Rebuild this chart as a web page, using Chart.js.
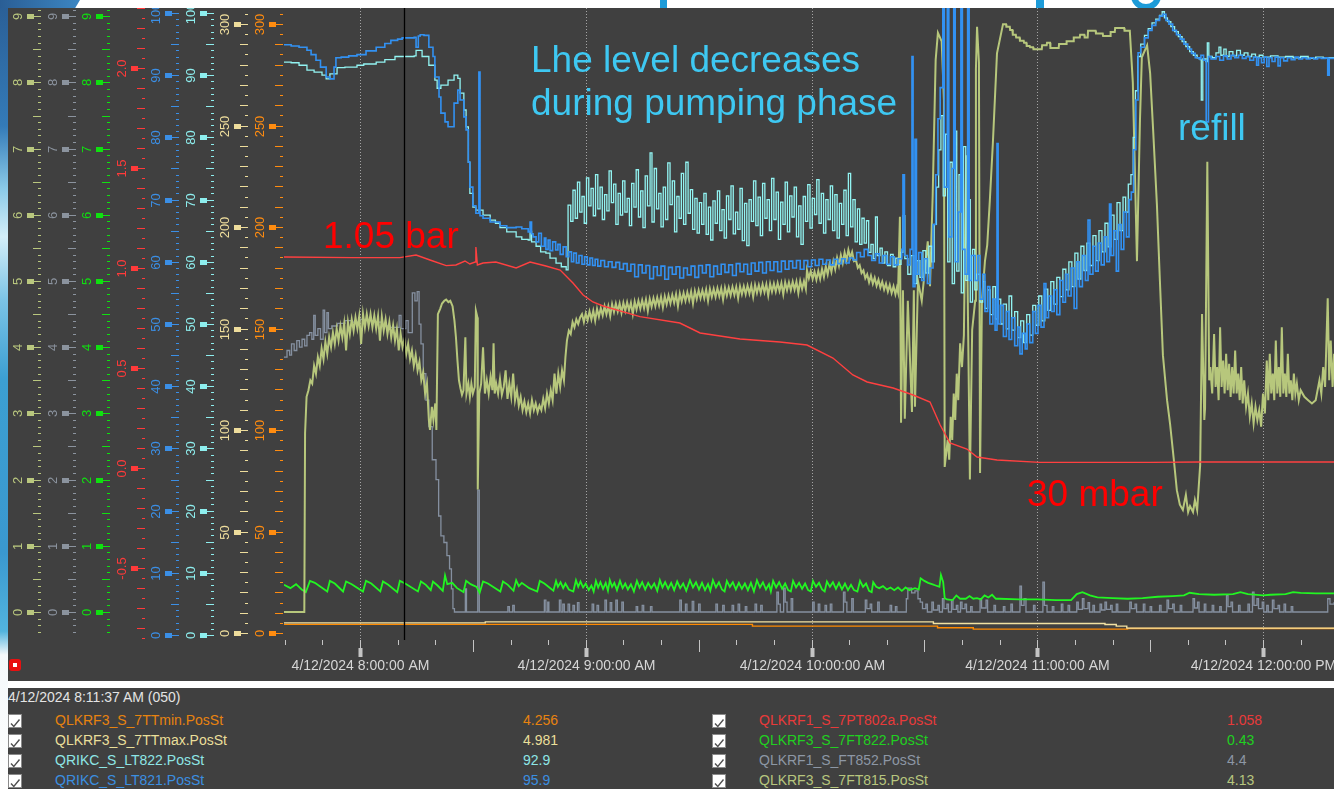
<!DOCTYPE html>
<html><head><meta charset="utf-8">
<script src="https://cdn.jsdelivr.net/npm/chart.js@4.4.1/dist/chart.umd.min.js"></script>
<style>
html,body{margin:0;padding:0;background:#fff;}
body{width:1334px;height:789px;overflow:hidden;position:relative;font-family:"Liberation Sans",Arial,sans-serif;}
#strip{position:absolute;left:0;top:0;width:8px;height:789px;background:linear-gradient(180deg,#2a5e95 0%,#347bb8 16%,#8ccbe9 24%,#d4eef8 30%,#7cc4e6 38%,#3c9fd2 48%,#3a98cf 70%,#52b4de 80%,#f4f8fa 83%,#ffffff 100%);}
#corner{position:absolute;left:0;top:0;width:80px;height:8px;background:linear-gradient(90deg,#2a5e95,#3c86c2);clip-path:polygon(0 0,100% 0,94% 100%,0 100%);}
.tf{position:absolute;background:#1d9bd8;}
#gbowl{position:absolute;left:1131px;top:-18px;width:18px;height:16px;border:6px solid #1d9bd8;border-radius:50%;}
#panel{position:absolute;left:8px;top:8px;width:1326px;height:673px;background:#404040;}
#c{position:absolute;left:8px;top:8px;z-index:1;}
#legend{position:absolute;left:8px;top:688px;width:1326px;height:101px;background:#404040;overflow:hidden;}
.ann{position:absolute;font-size:37px;line-height:43px;white-space:nowrap;z-index:3;}
.blue{color:#3ec8f2;}
.red{color:#ff0000;}
#icon{position:absolute;left:9px;top:659px;width:12px;height:12px;background:#e81010;border-radius:3px;z-index:3;}
#icon div{position:absolute;left:4px;top:4px;width:4px;height:4px;background:#fff;}
.lg{position:absolute;font-size:14px;line-height:16px;white-space:nowrap;}
.cb{position:absolute;width:12px;height:12px;background:#fff;border:1px solid #8a8a8a;}
</style>
</head>
<body>
<div id="strip"></div>
<div id="corner"></div>
<div class="tf" style="left:660px;top:0;width:7px;height:8px;"></div>
<div class="tf" style="left:1036px;top:0;width:8px;height:8px;"></div>
<div id="gbowl"></div>
<div id="panel"></div>
<canvas id="c" width="1326" height="673" style="width:1326px;height:673px;"></canvas>
<div class="ann blue" style="left:531px;top:37.7px;">Lhe level decreases<br>during pumping phase</div>
<div class="ann blue" style="left:1178px;top:105.7px;">refill</div>
<div class="ann red" style="left:323px;top:213.7px;">1.05 bar</div>
<div class="ann red" style="left:1027px;top:471.7px;">30 mbar</div>
<div id="icon"><div></div></div>
<div id="legend"></div>
<script>
// ---------------- DATA (minutes since midnight, value) ----------------
const cursorTime = 491.617;            // 8:11:37
const cursorLabel = '4/12/2024 8:11:37 AM (050)';
const hourTicks = [480, 540, 600, 660, 720];
const hourLabels = ['4/12/2024 8:00:00 AM','4/12/2024 9:00:00 AM','4/12/2024 10:00:00 AM','4/12/2024 11:00:00 AM','4/12/2024 12:00:00 PM'];
const ticksCount = ['0','1','2','3','4','5','6','7','8','9'];
const ticksBar = ['-0.5','0.0','0.5','1.0','1.5','2.0'];
const ticksPct = ['0','10','20','30','40','50','60','70','80','90','100'];
const ticksTemp = ['0','50','100','150','200','250','300'];

const legendNames = ['QLKRF3_S_7TTmin.PosSt','QLKRF3_S_7TTmax.PosSt','QRIKC_S_LT822.PosSt','QRIKC_S_LT821.PosSt','QLKRF1_S_7PT802a.PosSt','QLKRF3_S_7FT822.PosSt','QLKRF1_S_FT852.PosSt','QLKRF3_S_7FT815.PosSt'];
const legendValues = ['4.256','4.981','92.9','95.9','1.058','0.43','4.4','4.13'];

const ttmin = [[459.8,4.256],[584.2,4.256],[584.3,3.4],[633.4,3.4],[633.5,2.6],[642.9,2.6],[643.0,1.9],[682.0,1.9],[684.0,2.2],[738.9,2.2]];
const ttmax = [[459.8,4.98],[513.2,4.98],[513.3,5.5],[632.3,5.5],[632.4,4.7],[674.0,4.7],[678.0,4.2],[681.0,3.4],[683.8,2.4],[738.9,2.4]];

const pt802a = [[459.8,1.055],[478.1,1.052],[490.6,1.052],[494.9,1.065],[498.6,1.04],[502.9,1.012],[505.5,1.015],[507.9,1.035],[509.2,1.02],[510.6,1.03],[510.8,1.105],[511.2,1.015],[512.7,1.025],[516.1,1.03],[521.5,1.0],[525.2,1.03],[529.4,1.01],[533.2,0.99],[536.6,0.925],[539.3,0.865],[541.9,0.83],[544.6,0.81],[554.4,0.757],[565.0,0.725],[570.4,0.675],[581.0,0.645],[591.6,0.63],[598.8,0.615],[605.7,0.55],[611.0,0.465],[614.8,0.43],[621.7,0.40],[627.0,0.365],[631.5,0.33],[634.2,0.215],[636.8,0.125],[641.3,0.095],[644.0,0.055],[649.3,0.04],[660.7,0.028],[690.0,0.028],[703.3,0.03],[738.9,0.03]];

const lt821 = [[459.8,94.9],[461.7,94.7],[463.8,94.5],[465.9,94.0],[467.0,93.3],[468.3,92.4],[469.5,91.3],[471.0,89.7],[472.0,89.4],[473.1,91.3],[473.6,92.8],[475.0,92.9],[477.0,93.1],[479.2,93.3],[481.6,93.9],[484.3,94.5],[486.6,95.1],[488.2,95.6],[490.0,95.8],[491.2,96.0],[492.8,96.0],[494.4,96.1],[494.9,94.5],[495.5,96.3],[496.0,96.5],[497.0,96.4],[498.3,94.5],[499.4,93.0],[499.9,89.7],[501.0,86.5],[501.5,83.9],[502.6,82.5],[503.4,81.7],[505.0,85.5],[506.0,87.6],[506.6,86.0],[507.6,83.3],[508.2,81.2],[508.8,76.0],[509.2,72.0],[510.0,69.0],[510.8,67.8],[511.6,90.5],[511.9,67.4],[512.7,67.0],[514.6,66.4],[517.2,65.8],[519.0,65.5],[521.5,65.6],[523.0,65.3],[524.7,64.8],[525.2,66.4],[525.6,64.5],[526.0,64.0],[526.8,63.2],[527.5,64.6],[528.2,62.5],[529.0,63.8],[529.4,62.0],[530.0,63.5],[530.5,61.8],[531.2,63.2],[532.0,61.9],[532.6,62.8],[533.2,61.2],[534.0,62.4],[534.8,60.8],[535.5,61.6],[536.2,60.0],[536.8,61.4],[537.5,59.8],[538.2,61.0],[539.0,59.6],[539.7,60.8],[540.4,59.5],[541.1,60.6],[541.8,59.4],[542.5,60.4],[543.2,59.3],
[544,60.2],[545,59.2],[546,60.0],[547,59.1],[548,59.9],[549,58.8],[550,59.7],[551,58.5],[552,59.6],[553,57.6],[554,59.5],[555,58.2],[556,59.4],[557,57.3],[558,59.2],[559,57.8],[560,59.3],[561,57.2],[562,59.1],[563,58.0],[564,59.2],[565,57.4],[566,59.0],[567,57.9],[568,59.3],[569,57.5],[570,59.4],[571,58.2],[572,59.5],[573,57.6],[574,59.3],[575,58.0],[576,59.6],[577,58.3],[578,59.5],[579,57.8],[580,59.7],[581,58.4],[582,59.6],[583,58.0],[584,59.8],[585,58.5],[586,59.9],[587,58.2],[588,60.0],[589,58.6],[590,60.0],[591,58.4],[592,60.1],[593,58.8],[594,60.1],[595,59.0],[596,60.2],[597,58.8],[598,60.2],[599,59.2],[600,60.3],[601,59.4],[602,60.4],[603,59.6],[604,60.3],[605,59.5],[606,60.4],[607,59.7],[608,60.5],[609,59.8],[610,60.6],[611,60.3],[612,61.5],[613,60.8],[614,62.0],[615,61.0],[616,60.2],[617,61.3],[618,59.8],[619,61.0],[620,59.6],[621,60.8],[622,59.5],[623,60.5],
[624.0,62.0],[624.3,74.0],[624.7,61.0],[625.5,59.5],[626.2,62.0],[626.7,93.0],[627.0,56.0],[627.5,79.7],[627.9,58.0],[628.5,61.5],[629.3,57.0],[630.0,60.5],[630.8,56.5],[631.5,59.0],[632.3,66.0],[633.0,74.0],[633.6,83.0],[634.2,88.0],[634.9,101],[635.3,72],[636.1,101],[636.5,64],[637.3,75],[637.8,101],[638.2,60],[639.0,68],[639.7,101],[640.1,62],[640.8,58],[641.5,101],[641.9,57],[642.5,61],[643.5,57],[644.2,61],[644.8,54],[645.5,58],[646.1,52],[646.8,56],[647.4,50],[648.2,54],[648.8,49],[649.3,79],[649.6,50],[650.2,53],[651.0,48],[651.8,52],[652.5,47.5],[653.2,51],[654.0,46.5],[654.8,49.5],[655.4,45.2],[656.0,48.5],[656.8,46],[657.3,50],[658.0,47],[658.8,52],[659.5,48.5],[660.2,53],[661.0,49.5],[661.8,56.5],[662.3,51],[663.0,54.5],[663.8,52],[664.5,55.5],[665.2,51.5],[666.0,57],[666.8,53.5],[667.5,58],[668.2,54.5],[669.0,59],[669.8,52.5],[670.5,60],[671.2,56],[672.0,61],[672.8,57],[673.5,66.7],[674.0,58],[674.8,62.5],[675.5,58.5],[676.2,63],[677.0,59.5],[677.8,64],[678.5,60],[679.2,69.3],[679.6,61],[680.3,65],[681.0,58.5],[681.6,66],[682.3,62],[683.0,68],[683.7,64],[684.4,70],[685.0,71.2],[685.6,78],[686.2,86],[686.8,93.6],[687.5,94.5],[688.5,96],[689.5,97.2],[690.5,98],[691.5,98.8],[692.5,99.5],[693.4,99.8],[694.2,98.8],[695.0,98.2],[696.0,97.2],[697.0,96.5],[698.0,95.8],[699.0,95.0],[700.0,94.2],[701.0,93.5],[702.0,92.8],[703.0,92.6],[703.5,93.2],[704.2,92.4],[704.9,82.5],[705.5,93.0],[706.2,92.6],
[707.5,93.0],[708.5,92.4],[709.5,93.1],[710.5,92.6],[711.5,93.2],[712.5,92.8],[713.5,93.2],[714.5,92.7],[715.5,93.0],[716.5,92.4],[717.5,92.9],[718.3,91.6],[718.8,92.8],[719.6,92.0],[720.3,92.9],[721.0,91.4],[721.6,92.8],[722.4,92.2],[723.2,92.9],[724.0,91.5],[724.6,92.8],[725.5,92.3],[726.5,92.8],[727.5,92.5],[728.5,92.9],[729.5,92.6],[730.5,92.8],[731.5,92.6],[732.5,92.8],[733.5,92.6],[734.5,92.8],[735.5,92.7],[736.5,92.8],[737.2,90.0],[737.6,92.7],[738.9,92.7]];

const lt822 = [[459.8,92.1],[461.7,92.0],[463.8,91.6],[465.9,90.8],[467.8,90.5],[469.9,90.0],[471.0,89.4],[472.0,90.2],[473.9,91.2],[476.0,91.3],[479.2,91.6],[481.0,91.8],[484.3,92.1],[486.6,92.5],[489.3,93.0],[492.0,93.0],[494.4,93.1],[494.9,94.0],[496.5,93.0],[498.3,91.6],[499.9,89.2],[500.5,87.9],[501.5,88.4],[503.4,89.2],[505.0,90.0],[506.0,89.5],[506.6,87.1],[507.6,84.4],[508.2,81.7],[508.8,76.0],[509.2,71.0],[510.0,68.8],[510.8,68.3],[512.7,67.5],[514.6,66.7],[516.0,66.2],[517.2,65.5],[519.0,64.8],[521.5,64.0],[523.0,63.6],[524.7,63.5],[525.2,64.9],[525.6,63.2],[526.8,62.5],[528.0,61.6],[529.4,61.4],[530.5,60.6],[532.1,59.8],[533.5,59.2],[534.8,58.7],
[535.3,69.1],[536.0,66.5],[536.6,71.5],[537.2,67.0],[537.8,72.8],[538.4,68.0],[539.0,70.5],[539.6,66.2],[540.2,73.5],[540.8,69.0],[541.4,71.8],[542.0,67.4],[542.6,74.0],[543.2,68.5],[543.8,72.0],[544.4,66.8],[545.0,70.8],[545.6,68.2],[546.2,74.6],[546.8,69.5],[547.4,72.5],[548.0,66.0],[548.6,71.0],[549.2,67.5],[549.8,73.0],[550.4,68.0],[551.0,70.2],[551.6,65.8],[552.2,72.6],[552.8,68.8],[553.4,74.8],[554.0,67.2],[554.6,71.4],[555.2,65.5],[555.8,73.8],[556.4,69.0],[557.1,77.5],[557.6,66.4],[558.2,75.0],[558.8,68.5],[559.4,71.0],[560.0,65.6],[560.6,72.0],[561.2,66.8],[561.8,75.9],[562.4,69.2],[563.0,73.0],[563.6,64.8],[564.2,70.5],[564.8,67.0],[565.4,74.2],[566.0,66.0],[566.6,76.0],[567.2,67.8],[567.8,71.6],[568.4,65.2],[569.0,70.2],[569.6,64.6],[570.2,69.5],[570.8,66.0],[571.4,71.0],[572.0,64.4],[572.6,68.8],[573.2,63.5],[573.8,69.8],[574.4,66.2],[575.0,71.4],[575.6,65.0],[576.2,68.4],[576.8,63.8],[577.4,70.6],[578.0,66.8],[578.6,72.2],[579.2,64.5],[579.8,68.0],[580.4,65.2],[581.0,71.8],[581.6,63.4],[582.2,69.4],[582.8,62.6],[583.4,70.0],[584.0,66.5],[584.6,73.0],[585.2,65.8],[585.8,70.4],[586.4,64.2],[587.0,72.6],[587.6,67.0],[588.2,70.0],[588.8,65.0],[589.4,73.4],[590.0,66.8],[590.6,71.2],[591.2,63.6],[591.8,69.6],[592.4,66.0],[593.0,72.8],[593.6,64.8],[594.2,70.6],[594.8,67.2],[595.4,72.0],[596.0,64.0],[596.6,69.0],[597.2,62.8],[597.8,70.5],[598.4,66.5],[599.0,72.4],[599.6,65.4],[600.2,70.2],[600.8,67.6],[601.4,73.2],[602.0,66.2],[602.6,71.0],[603.2,64.6],[603.8,70.0],[604.4,66.8],[605.0,72.2],[605.6,65.0],[606.2,70.8],[606.8,63.8],[607.4,69.4],[608.0,66.0],[608.6,71.5],[609.2,64.2],[609.8,74.2],[610.4,65.6],[611.0,70.0],[611.6,63.2],[612.2,68.5],[612.8,62.8],[613.4,67.0],[614.0,63.0],[614.6,66.6],[615.2,61.5],[615.8,62.8],[616.4,60.5],[617.0,67.2],[617.5,61.0],[618.2,62.2],[618.8,59.8],[619.5,61.6],[620.2,59.4],[621.0,61.2],[621.7,59.2],[622.4,60.6],[623.0,59.6],
[623.8,61.5],[624.3,67.4],[624.8,60.5],[625.6,58.0],[626.4,61.0],[627.2,56.5],[628.0,60.2],[628.8,57.5],[629.6,61.8],[630.4,58.2],[631.2,62.5],[632.0,60.0],[632.6,66.0],[633.2,72.0],[633.8,78.0],[634.4,83.5],[635.0,70.6],[635.6,80.5],[636.2,60.0],[636.8,76.0],[637.4,56.5],[638.0,81.0],[638.6,58.5],[639.2,74.0],[639.8,55.0],[640.4,78.5],[641.0,57.0],[641.6,70.0],[642.2,53.5],[642.8,62.0],[643.4,55.5],[644.0,58.0],[644.8,53.5],[645.5,56.8],[646.1,52.5],[646.8,55.5],[647.5,51.5],[648.2,56.0],[648.9,50.8],[649.6,54.0],[650.3,50.0],[651.0,53.2],[651.8,49.2],[652.5,54.5],[653.2,49.0],[654.0,52.0],[654.8,47.8],[655.6,50.5],[656.4,47.0],[657.2,51.5],[658.0,48.2],[658.8,53.0],[659.6,49.8],[660.4,54.5],[661.2,50.5],[662.0,55.6],[662.8,52.2],[663.6,56.8],[664.4,53.2],[665.2,57.5],[666.0,54.4],[666.8,58.8],[667.6,55.5],[668.4,60.0],[669.2,56.0],[670.0,61.4],[670.8,57.2],[671.6,62.5],[672.4,58.6],[673.2,63.0],[674.0,59.4],[674.8,64.2],[675.6,60.2],[676.4,65.0],[677.2,61.6],[678.0,66.2],[678.8,62.4],[679.6,67.5],[680.4,63.6],[681.2,69.5],[682.0,65.0],[682.8,70.4],[683.5,68.0],[684.2,72.5],[684.9,74.0],[685.5,80.0],[686.1,87.5],[686.7,93.0],[687.5,95.0],[688.5,96.4],[689.5,97.5],[690.5,98.4],[691.5,99.0],[692.5,99.6],[693.2,100.2],[693.8,99.2],[694.6,98.6],[695.5,97.8],[696.5,97.0],[697.5,96.2],[698.5,95.4],[699.5,94.6],[700.5,93.8],[701.5,93.2],[702.5,92.8],[703.3,92.5],[703.6,86.0],[704.0,92.6],[704.8,92.2],[705.2,95.2],[705.6,93.0],[706.5,92.8],[707.5,93.6],[708.3,94.5],[708.8,93.2],[709.6,94.2],[710.2,93.0],[711.0,93.8],[712.0,93.1],[713.0,94.0],[714.0,93.2],[715.0,93.6],[716.0,93.0],[717.0,93.4],[718.0,92.9],[719.0,93.2],[720.0,92.9],[722.0,93.1],[724.0,92.9],[726.0,93.0],[728.0,92.8],[730.0,93.0],[732.0,92.7],[734.0,92.9],[736.0,92.8],[738.9,92.8]];

const ft815 = [[459.8,0],[465.2,0],[465.4,2.7],[465.8,3.25],[466.3,3.35],[466.8,3.5],[467.3,3.45],[467.8,3.72],[468.3,3.6],[468.8,3.85],[469.3,3.72],[469.8,3.98],[470.3,3.82],[470.8,4.08],[471.3,3.9],[471.8,4.15],[472.3,4.0],[472.8,4.22],[473.3,4.05],[473.8,4.28],[474.3,4.1],[474.8,4.32],[475.3,4.15],[475.8,4.36],[476.3,3.95],[476.8,4.38],[477.3,4.2],[477.8,4.42],[478.3,4.25],[478.8,4.45],[479.3,4.28],[479.8,4.47],[480.3,4.05],[480.8,4.5],[481.3,4.3],[481.8,4.5],[482.3,4.32],[482.8,4.5],[483.3,4.3],[483.8,4.48],[484.3,4.28],[484.8,4.47],[485.3,4.1],[485.8,4.46],[486.3,4.25],[486.8,4.42],[487.3,4.2],[487.8,4.38],[488.3,4.15],[488.8,4.33],[489.3,4.1],[489.8,4.28],[490.3,3.95],[490.8,4.2],[491.3,4.0],[491.8,4.12],[492.3,3.9],[492.8,4.05],[493.3,3.82],[493.8,3.95],[494.3,3.72],[494.8,3.88],[495.3,3.65],[495.8,3.78],[496.3,3.5],[496.8,3.62],[497.3,3.3],[497.8,3.45],[498.3,2.9],[498.6,2.75],[499.1,3.1],[499.5,2.9],[500.0,3.15],[500.3,2.75],[500.7,4.5],[501.3,4.58],[501.8,4.66],[502.4,4.7],[502.9,4.72],[503.5,4.68],[504.0,4.7],[504.6,4.62],[505.1,4.4],[505.5,4.15],[505.9,3.8],[506.3,3.5],[506.7,3.38],[507.1,3.28],[507.5,3.35],[508.0,4.15],[508.3,3.3],[508.8,3.45],[509.2,3.25],[509.6,3.45],[510.0,3.3],[510.5,3.4],[510.8,4.55],[511.2,4.45],[511.3,1.85],[511.7,3.3],[512.2,3.45],[512.7,4.0],[513.2,3.3],[513.7,3.5],[514.2,3.3],[514.7,3.55],[515.2,3.35],[515.5,4.06],[515.8,3.3],[516.2,3.45],[516.7,3.3],[517.2,3.52],[517.7,3.28],[518.2,3.4],[518.7,3.65],[519.2,3.22],[519.7,3.45],[520.2,3.25],[520.7,3.6],[521.2,3.2],[521.7,3.35],[522.2,3.12],[522.7,3.25],[523.2,3.05],[523.7,3.18],[524.2,3.02],[524.7,3.15],[525.2,3.0],[525.7,3.2],[526.2,3.05],[526.7,3.15],[527.2,3.02],[527.7,3.12],[528.2,3.05],[528.7,3.22],[529.2,3.08],[529.7,3.3],[530.2,3.15],[530.7,3.35],[531.2,3.2],[531.7,3.6],[532.2,3.3],[532.7,3.6],[533.2,3.4],[533.7,3.65],[534.2,3.5],[534.6,3.85],[535.0,4.1],[535.5,4.25],[536.0,4.2],[536.5,4.38],[537.0,4.3],[537.5,4.42],[538.0,4.35],[538.5,4.45],
[539,4.50],[539.5,4.38],[540,4.51],[540.5,4.41],[541,4.54],[541.5,4.42],[542,4.55],[542.5,4.40],[543,4.58],[543.5,4.46],[544,4.59],[544.5,4.48],[545,4.62],[545.5,4.50],[546,4.62],[546.5,4.47],[547,4.65],[547.5,4.53],[548,4.66],[548.5,4.54],[549,4.66],[549.5,4.52],[550,4.67],[550.5,4.55],[551,4.68],[551.5,4.56],[552,4.67],[552.5,4.5],[553,4.69],[553.5,4.57],[554,4.7],[554.5,4.58],[555,4.71],[555.5,4.59],[556,4.72],[556.5,4.55],[557,4.73],[557.5,4.61],[558,4.74],[558.5,4.62],[559,4.75],[559.5,4.63],[560,4.76],[560.5,4.6],[561,4.77],[561.5,4.65],[562,4.78],[562.5,4.66],[563,4.79],[563.5,4.67],[564,4.8],[564.5,4.62],[565,4.81],[565.5,4.69],[566,4.82],[566.5,4.7],[567,4.83],[567.5,4.71],[568,4.84],[568.5,4.66],[569,4.85],[569.5,4.73],[570,4.86],[570.5,4.74],[571,4.86],[571.5,4.74],[572,4.87],[572.5,4.7],[573,4.88],[573.5,4.76],[574,4.88],[574.5,4.76],[575,4.89],[575.5,4.77],[576,4.89],[576.5,4.72],[577,4.9],[577.5,4.78],[578,4.9],[578.5,4.78],[579,4.91],[579.5,4.79],[580,4.91],[580.5,4.74],[581,4.92],[581.5,4.8],[582,4.92],[582.5,4.8],[583,4.93],[583.5,4.81],[584,4.93],[584.5,4.76],[585,4.94],[585.5,4.82],[586,4.94],[586.5,4.82],[587,4.95],[587.5,4.83],[588,4.95],[588.5,4.78],[589,4.96],[589.5,4.84],[590,4.96],[590.5,4.84],[591,4.97],[591.5,4.85],[592,4.97],[592.5,4.8],[593,4.98],[593.5,4.86],[594,4.98],[594.5,4.86],[595,4.99],[595.5,4.87],[596,4.99],[596.5,4.82],[597,5.0],[597.5,4.88],[598,5.0],[598.5,4.88],[598.8,5.16],[599.3,5.04],[599.8,5.15],[600.3,5.03],[600.8,5.14],[601.3,5.02],[601.8,5.15],[602.3,5.03],[602.8,5.18],[603.3,5.06],[603.8,5.22],[604.3,5.1],[604.8,5.26],[605.3,5.14],[605.8,5.3],[606.3,5.18],[606.8,5.35],[607.3,5.23],[607.8,5.39],[608.3,5.27],[608.8,5.43],[609.3,5.31],[609.8,5.47],[610.3,5.35],[610.8,5.44],[611.3,5.3],[611.8,5.32],[612.3,5.2],[612.8,5.24],[613.3,5.12],[613.8,5.16],[614.3,5.04],[614.8,5.1],[615.3,4.98],[615.8,5.08],[616.3,4.96],[616.8,5.05],[617.3,4.93],[617.8,5.02],[618.3,4.9],[618.8,4.99],[619.3,4.87],[619.8,4.96],[620.3,4.84],[620.8,4.94],[621.3,4.82],[621.8,4.92],[622.3,4.8],[622.7,4.9],
[623.0,4.83],[623.5,5.97],[623.8,2.86],[624.3,4.86],[624.8,2.92],[625.6,4.7],[626.7,3.02],[627.2,4.86],[627.5,3.1],[628.3,5.0],[629.3,4.7],[630.1,5.15],[630.9,5.6],[631.5,4.92],[632.2,6.28],[633.0,8.34],[633.6,8.75],[634.6,8.62],[635.2,7.73],[635.4,2.19],[636.2,2.6],[636.6,2.3],[637.0,2.95],[637.4,2.6],[637.8,3.3],[638.2,2.9],[638.6,3.6],[639.0,3.2],[639.5,4.06],[640.0,3.7],[640.5,4.18],[641.1,6.9],[641.6,4.4],[642.1,2.0],[642.7,4.26],[643.5,4.7],[643.7,8.2],[644.0,8.84],[644.5,8.3],[644.8,2.1],[645.3,4.7],[646.1,5.3],[646.7,5.54],[647.4,6.22],[648.2,7.08],[649.3,8.44],
[650.9,8.88],[651.7,8.88],[651.8,8.84],[652.7,8.84],[652.8,8.79],[653.4,8.79],[653.5,8.72],[654.3,8.72],[654.4,8.68],[655.3,8.68],[655.4,8.63],[656.4,8.63],[656.5,8.6],[657.1,8.6],[657.2,8.55],[658.0,8.55],[658.1,8.53],[658.9,8.53],[659.0,8.5],[661.2,8.5],[661.3,8.56],[662.5,8.56],[662.6,8.6],[663.4,8.6],[663.5,8.52],[665.7,8.52],[665.8,8.58],[667.7,8.58],[667.8,8.62],[669.6,8.62],[669.7,8.68],[671.3,8.68],[671.4,8.72],[672.5,8.72],[672.6,8.68],[673.4,8.68],[673.5,8.78],[675.5,8.78],[675.6,8.74],[677.4,8.74],[677.5,8.7],[679.4,8.7],[679.5,8.76],[680.6,8.76],[680.7,8.82],[683.1,8.82],[683.2,8.78],[684.6,8.78],
[685.4,8.0],[686.5,5.3],[687.3,7.43],[687.8,8.38],[689.2,8.56],[690.0,8.14],[690.8,7.28],[691.8,6.16],[692.6,5.0],[693.4,3.88],[694.5,3.2],[695.3,2.84],[696.3,2.3],[697.1,1.84],[697.9,1.62],[698.7,1.54],[699.5,1.77],[700.1,1.51],[700.6,1.6],[701.4,1.51],[701.9,1.69],[702.5,1.54],[703.3,2.22],[703.8,4.5],[704.4,2.9],[704.6,3.08],[705.2,6.8],[705.7,3.5],
[706.0,3.7],[706.5,3.3],[707.0,4.2],[707.4,3.4],[707.8,3.7],[708.2,3.2],[708.6,4.3],[709.0,3.4],[709.4,3.8],[709.8,3.3],[710.2,3.9],[710.6,3.35],[711.0,3.75],[711.4,3.25],[711.8,3.7],[712.2,3.3],[712.6,3.95],[713.0,3.3],[713.4,3.6],[713.8,3.2],[714.2,3.7],[714.6,3.15],[715.0,3.5],[715.5,3.1],[716.0,3.3],[716.5,2.95],[717.0,3.15],[717.5,2.85],[718.0,3.1],[718.5,2.9],[719.0,3.05],[719.5,2.8],[720.0,3.3],[720.5,3.0],[721.0,3.8],[721.4,3.2],[721.8,3.9],[722.2,3.3],[722.6,3.6],[723.0,3.2],[723.4,4.1],[723.8,3.3],[724.2,3.7],[724.6,3.25],[725.0,4.3],[725.4,3.3],[725.8,3.6],[726.2,3.25],[726.6,3.9],[727.0,3.3],[727.4,3.5],[727.8,3.2],[728.2,3.6],[728.6,3.3],[729.0,3.45],[729.5,3.2],[730.0,3.35],[731.0,3.25],[732.0,3.2],[733.0,3.15],[734.0,3.2],[735.0,3.5],[735.5,3.3],[736.0,3.7],[736.5,3.4],[737.2,4.74],[737.6,3.5],[738.0,4.1],[738.5,3.4],[738.9,3.9]];

const ft852 = [[459.8,3.85],[460.6,3.95],[461.3,3.88],[461.8,4.05],[462.5,3.95],[463.2,4.1],[463.9,4.0],[464.6,4.12],[465.3,4.02],[465.9,4.18],[466.6,4.22],[467.2,4.12],[467.7,4.48],[468.1,4.18],[468.8,4.28],[469.5,4.12],[470.2,4.56],[470.6,4.22],[471.2,4.52],[471.6,4.28],[472.5,4.32],[474,4.36],[476,4.4],[478,4.38],[480,4.42],[482,4.4],[484,4.38],[486,4.32],[488,4.3],[490.4,4.48],[490.9,4.28],[492.2,4.4],[492.8,4.22],[493.9,4.82],[494.6,4.7],[495.2,4.84],[495.7,4.35],[496.2,4.05],[496.8,3.6],[497.5,3.2],[498.3,2.8],[499.2,2.3],[500.2,2.0],[500.9,1.45],[501.5,1.15],[502.3,1.05],[503.1,0.85],[503.8,0.65],[504.3,0.35],[504.7,0.05],[505.1,0],[507.9,0],[508.0,0.35],[508.3,0],[511.3,1.84],[511.7,0],
[519.3,0.08],[519.7,0],[520.6,0.1],[521.0,0],[529.0,0.18],[529.4,0],[529.9,0.15],[530.2,0],[533.0,0.18],[533.4,0],[533.9,0.12],[534.3,0],[535.3,0.12],[535.7,0],[536.6,0.1],[537.0,0],[537.8,0.14],[538.2,0],[541.7,0.12],[542.1,0],[543.0,0.1],[543.4,0],[545.1,0.18],[545.5,0],[546.5,0.14],[546.9,0],[548.0,0.18],[548.4,0],[549.6,0.15],[550.0,0],[553.4,0.08],[553.8,0],[555.0,0.1],[555.4,0],[557.2,0.08],[557.6,0],[565.0,0.18],[565.4,0],[566.5,0.12],[566.9,0],[568.3,0.16],[568.7,0],[570.0,0.12],[570.4,0],[574.6,0.12],[575.0,0],[576.4,0.1],[576.8,0],[578.9,0.1],[579.3,0],[580.5,0.12],[580.9,0],[582.4,0.08],[582.8,0],[585.0,0.12],[585.4,0],[586.5,0.1],[586.9,0],[590.8,0.3],[591.2,0.12],[591.7,0],[592.6,0.36],[593.0,0.15],[593.5,0],[594.6,0.2],[595.0,0],[600.3,0.15],[600.7,0],[601.8,0.12],[602.2,0],[603.6,0.1],[604.0,0],[605.0,0.12],[605.4,0],[608.5,0.3],[608.9,0.15],[609.4,0],[610.7,0.2],[611.1,0],[614.3,0.18],[614.7,0.05],[615.6,0.12],[616.0,0],[617.6,0.15],[618.0,0],[620.9,0.1],[621.3,0],[622.3,0.08],[622.7,0],[625.2,0.2],[625.6,0.36],[626.6,0.29],[627.5,0.32],[628.3,0.2],[628.9,0.15],[629.5,0.05],[630.4,0.12],[630.8,0],[632.0,0.15],[632.4,0.03],[633.6,0.1],[634.0,0],[634.8,0.2],[635.2,0.05],[636.0,0.12],[636.4,0],[637.2,0.18],[637.6,0.04],[638.5,0.1],[638.9,0],[639.6,0.15],[640.0,0.05],[640.8,0.12],[641.2,0],[642.3,0.08],[642.7,0],[644.8,0.2],[645.2,0.06],[646.4,0.18],[646.8,0],[648.5,0.1],[648.9,0],[651.0,0.08],[651.4,0],[653.0,0.12],[653.4,0],[655.4,0.39],[655.8,0.1],[656.5,0.2],[657.0,0],[659.0,0.1],[659.4,0],[661.5,0.45],[661.9,0.1],[662.6,0],[664.0,0.08],[664.4,0],[666.4,0.12],[666.8,0],[668.2,0.1],[668.6,0],[670.5,0.15],[670.9,0.04],[672.0,0.2],[672.4,0.05],[673.5,0.14],[673.9,0],[674.8,0.1],[675.2,0],[676.7,0.12],[677.1,0.03],[678.0,0.15],[678.4,0.04],[679.5,0.1],[679.9,0],[681.0,0.12],[681.4,0],[684.6,0.15],[685.0,0.05],[686.0,0.12],[686.4,0],[688.2,0.12],[688.6,0],[690.0,0.08],[690.4,0],[692.5,0.1],[692.9,0],[694.5,0.18],[694.9,0.05],[696.0,0.12],[696.4,0],[698.0,0.1],[698.4,0],[701.4,0.2],[701.8,0.06],[702.6,0.15],[703.0,0],[704.4,0.12],[704.8,0],[706.5,0.1],[706.9,0],[708.5,0.08],[708.9,0],[710.3,0.25],[710.7,0.08],[711.5,0.15],[711.9,0],[713.5,0.1],[713.9,0],[716.0,0.12],[716.4,0],[717.2,0.3],[717.6,0.1],[718.4,0.2],[718.8,0.05],[719.8,0.15],[720.2,0],[721.0,0.1],[721.4,0],[722.5,0.18],[722.9,0.05],[724.0,0.1],[724.4,0],[725.6,0.12],[726.0,0],[727.5,0.08],[727.9,0],[730.5,0],[737.2,0.2],[737.8,0.12],[738.9,0.15]];

const ft822 = [[459.8,0.41],[461.5,0.36],[463.0,0.42],[464.5,0.34],[465.6,0.30],[466.7,0.47],[468.0,0.44],[469.5,0.38],[471.3,0.31],[472.0,0.47],[473.3,0.43],[475.5,0.31],[476.3,0.46],[477.8,0.42],[480.8,0.31],[481.6,0.47],[483.0,0.43],[485.4,0.31],[486.1,0.46],[487.5,0.41],[489.9,0.30],[490.6,0.47],[492.0,0.43],[495.4,0.31],[496.2,0.46],[497.5,0.41],[498.8,0.33],[499.4,0.46],[500.6,0.40],[502.0,0.32],[502.6,0.55],[503.2,0.42],[504.5,0.44],[505.8,0.36],[507.5,0.30],[508.2,0.47],[509.4,0.42],[511.0,0.38],[511.8,0.29],[512.7,0.46],[514.0,0.43],[517.3,0.31],[518.0,0.46],[519.3,0.41],[520.8,0.32],[521.5,0.48],[522.2,0.39],[523.0,0.44],[525.0,0.36],[527.1,0.31],[527.8,0.47],[529.0,0.43],[531.4,0.32],[532.1,0.47],[532.6,0.38],[533.3,0.45],[534.0,0.36],[534.6,0.43],[535.5,0.34],[536.7,0.31],[537.4,0.48],[538.0,0.38],[538.6,0.46],[539.3,0.37],[540.0,0.43],[540.8,0.33],[541.5,0.40],[542.1,0.31],[542.7,0.47],[543.3,0.37],[543.9,0.45],[544.6,0.35],[545.3,0.44],[545.9,0.32],[546.4,0.48],[547.0,0.38],[547.6,0.44],[548.3,0.33],[549.1,0.47],[549.8,0.36],[550.5,0.43],[551.2,0.34],[552.0,0.42],[552.8,0.31],[553.6,0.47],[554.3,0.37],[555.0,0.45],[555.8,0.34],[556.6,0.44],[557.4,0.36],[558.2,0.43],[559.0,0.32],[559.7,0.48],[560.4,0.37],[561.1,0.45],[561.9,0.35],[562.7,0.44],[563.5,0.33],[564.3,0.46],[565.1,0.36],[565.9,0.43],[566.7,0.32],[567.7,0.48],[568.5,0.37],[569.3,0.45],[570.1,0.34],[570.9,0.44],[571.7,0.33],[572.5,0.42],[573.1,0.32],[573.8,0.48],[574.6,0.37],[575.4,0.45],[576.2,0.34],[576.9,0.31],[577.5,0.47],[578.3,0.38],[579.1,0.45],[579.9,0.34],[580.7,0.44],[581.5,0.35],[582.3,0.43],[583.1,0.33],[583.9,0.44],[584.7,0.31],[585.5,0.48],[586.3,0.37],[587.1,0.45],[587.9,0.34],[588.7,0.42],[589.2,0.31],[589.8,0.47],[590.6,0.37],[591.4,0.45],[592.2,0.35],[593.0,0.43],[593.8,0.33],[594.5,0.31],[595.1,0.47],[595.9,0.37],[596.7,0.44],[597.5,0.35],[598.3,0.43],[599.1,0.33],[599.8,0.31],[600.4,0.47],[601.2,0.38],[602.0,0.44],[602.8,0.34],[603.5,0.31],[604.1,0.46],[604.9,0.38],[605.7,0.45],[606.5,0.35],[607.3,0.44],[608.1,0.34],[608.9,0.43],[609.7,0.33],[610.5,0.41],[611.3,0.33],[612.2,0.31],[612.9,0.47],[613.7,0.38],[614.5,0.43],[615.3,0.32],[616.0,0.30],[616.4,0.45],[617.2,0.38],[618.0,0.36],[619.0,0.39],[620.0,0.34],[621.0,0.37],[622.0,0.33],[623.0,0.37],[624.0,0.32],[625.0,0.37],[626.0,0.33],[627.5,0.36],[628.5,0.34],[629.0,0.51],[630.0,0.47],[631.0,0.44],[632.0,0.42],[633.0,0.40],[634.0,0.38],[634.4,0.56],[635.0,0.45],[635.4,0.21],[636.0,0.19],[637.5,0.18],[638.5,0.25],[639.5,0.2],[641.0,0.2],[642.0,0.24],[643.0,0.2],[644.0,0.21],[645.0,0.19],[646.0,0.25],[647.0,0.22],[648.0,0.26],[649.0,0.2],[650.0,0.2],[655.0,0.19],[660.0,0.19],[665.0,0.18],[669.0,0.18],[670.5,0.27],[672.0,0.3],[674.0,0.25],[676.0,0.22],[680.0,0.21],[684.0,0.20],[688.0,0.21],[692.0,0.23],[696.0,0.24],[699.0,0.25],[700.5,0.29],[703.0,0.27],[707.0,0.26],[712.0,0.27],[714.0,0.3],[716.0,0.27],[720.0,0.25],[722.0,0.26],[726.0,0.27],[728.0,0.3],[730.0,0.29],[734.0,0.28],[738.9,0.28]];

// ---------------- chart ----------------
const axisDefs = [
  {id:'yFT815', color:'#b9c77e', min:-0.393, max:9.124, minor:0.1, mid:0.5, labels:ticksCount},
  {id:'yFT852', color:'#8b939e', min:-0.393, max:9.124, minor:0.1, mid:0.5, labels:ticksCount},
  {id:'yFT822', color:'#10e010', min:-0.393, max:9.124, minor:0.1, mid:0.5, labels:ticksCount},
  {id:'yPT802', color:'#ff3a3a', min:-0.85, max:2.30, minor:0.05, mid:0.1, labels:ticksBar},
  {id:'yLT821', color:'#3b8fe6', min:-0.48, max:100.8, minor:1, mid:5, labels:ticksPct},
  {id:'yLT822', color:'#8eeeee', min:-0.48, max:100.8, minor:1, mid:5, labels:ticksPct},
  {id:'yTTmax', color:'#eedd9c', min:-2.46, max:307.9, minor:5, mid:10, labels:ticksTemp},
  {id:'yTTmin', color:'#ff8c10', min:-2.46, max:307.9, minor:5, mid:10, labels:ticksTemp}
];

const series = [
  {label:'QRIKC_S_LT821.PosSt', data:lt821, axis:'yLT821', color:'#3291f2', width:1.6, stepped:true},
  {label:'QRIKC_S_LT822.PosSt', data:lt822, axis:'yLT822', color:'#92f4f2', width:1.3, stepped:true},
  {label:'QLKRF1_S_7PT802a.PosSt', data:pt802a, axis:'yPT802', color:'#ff4040', width:1.4, stepped:false},
  {label:'QLKRF3_S_7FT815.PosSt', data:ft815, axis:'yFT815', color:'#b7c77c', width:2.0, stepped:false},
  {label:'QLKRF3_S_7FT822.PosSt', data:ft822, axis:'yFT822', color:'#22f522', width:1.8, stepped:false},
  {label:'QLKRF1_S_FT852.PosSt', data:ft852, axis:'yFT852', color:'#8590a0', width:1.3, stepped:true},
  {label:'QLKRF3_S_7TTmax.PosSt', data:ttmax, axis:'yTTmax', color:'#f3e2a2', width:1.4, stepped:true},
  {label:'QLKRF3_S_7TTmin.PosSt', data:ttmin, axis:'yTTmin', color:'#ff8a00', width:1.4, stepped:true}
];

const scales = {
  x: {type:'linear', position:'bottom', min:459.8, max:738.87, ticks:{display:false}, grid:{display:false, drawTicks:false}, border:{display:false}, afterFit:s=>{s.height=43;}}
};
axisDefs.forEach((a, i) => {
  scales[a.id] = {type:'linear', position:'left', weight: axisDefs.length - i, min:a.min, max:a.max,
    ticks:{display:false}, grid:{display:false, drawTicks:false}, border:{display:false}, afterFit:s=>{s.width=34.5;}};
});

const trendPlugin = {
  id:'trend',
  beforeDatasetsDraw(chart){
    const {ctx, chartArea:ca} = chart; const xs = chart.scales.x;
    ctx.save(); ctx.strokeStyle='#a4a4a4'; ctx.lineWidth=1; ctx.setLineDash([1,2]);
    hourTicks.forEach(t=>{ const px=Math.round(xs.getPixelForValue(t))+0.5; ctx.beginPath(); ctx.moveTo(px,ca.top); ctx.lineTo(px,ca.bottom+2); ctx.stroke(); });
    ctx.restore();
  },
  afterDatasetsDraw(chart){
    const {ctx, chartArea:ca} = chart; const xs = chart.scales.x;
    const px = Math.round(xs.getPixelForValue(cursorTime))+0.5;
    ctx.save(); ctx.strokeStyle='#000'; ctx.lineWidth=1.3; ctx.beginPath(); ctx.moveTo(px,ca.top); ctx.lineTo(px,ca.bottom+2); ctx.stroke(); ctx.restore();
  },
  afterDraw(chart){
    const {ctx, chartArea:ca} = chart;
    ctx.save();
    axisDefs.forEach(a=>{
      const s = chart.scales[a.id];
      const xe = Math.round(s.right - 1.5);
      const majors = a.labels.map(Number);
      ctx.fillStyle = a.color;
      const n0 = Math.ceil(s.min/a.minor - 1e-6), n1 = Math.floor(s.max/a.minor + 1e-6);
      for (let n=n0; n<=n1; n++){
        const v = n*a.minor;
        const y = Math.round(s.getPixelForValue(v));
        if (majors.some(m=>Math.abs(m-v) < a.minor/10)) { ctx.fillRect(xe-14, y-2, 7, 5); ctx.fillRect(xe-7, y, 7, 1); }
        else if (Math.abs(v/a.mid - Math.round(v/a.mid)) < 1e-6) { ctx.fillRect(xe-8, y, 8, 1); }
        else { ctx.fillRect(xe-3, y, 3, 1); }
      }
      ctx.font = '13px "Liberation Sans", Arial, sans-serif';
      ctx.textAlign='center'; ctx.textBaseline='middle';
      a.labels.forEach(l=>{
        const y = Math.round(s.getPixelForValue(Number(l)))+0.5;
        ctx.save(); ctx.translate(xe-23.5, y); ctx.rotate(-Math.PI/2); ctx.fillText(l, 0, 0.5); ctx.restore();
      });
    });
    const xs = chart.scales.x;
    const top = ca.bottom + 2;
    ctx.fillStyle = '#c4c4c4';
    for (let t = Math.ceil(xs.min/10)*10; t <= xs.max; t += 10){
      const px = Math.round(xs.getPixelForValue(t));
      if (t % 60 === 0) { ctx.fillRect(px, top, 1, 9); ctx.fillRect(px-1.5, top+8, 4, 9); }
      else if (t % 30 === 0) { ctx.fillRect(px, top, 1, 12); }
      else { ctx.fillRect(px, top, 1, 5); }
    }
    ctx.fillStyle = '#d6d6d6';
    ctx.font = '14px "Liberation Sans", Arial, sans-serif';
    ctx.textAlign='center'; ctx.textBaseline='middle';
    hourTicks.forEach((t,i)=>{ ctx.fillText(hourLabels[i], Math.round(xs.getPixelForValue(t))+0.5, ca.bottom+28); });
    ctx.restore();
  }
};

new Chart(document.getElementById('c'), {
  type:'line',
  data:{ datasets: series.map((s,i)=>({label:s.label, data:s.data, yAxisID:s.axis, xAxisID:'x', borderColor:s.color, backgroundColor:s.color, borderWidth:s.width, stepped:s.stepped, pointRadius:0, tension:0, fill:false, order:i})) },
  options:{
    responsive:false, animation:false, devicePixelRatio:1,
    layout:{padding:0, autoPadding:false},
    plugins:{legend:{display:false}, tooltip:{enabled:false}},
    events:[],
    scales: scales
  },
  plugins:[trendPlugin]
});

// ---------------- legend panel (HTML text) ----------------
const legendColors = ['#e8830f','#eadf9a','#8ee6e6','#3b8fe0','#e83a3a','#20d020','#8d97a5','#b7c67e'];
const lg = document.getElementById('legend');
const hdr = document.createElement('div'); hdr.className='lg'; hdr.style.left='0px'; hdr.style.top='1px'; hdr.style.color='#e4e4e4'; hdr.textContent=cursorLabel; lg.appendChild(hdr);
legendNames.forEach((n,i)=>{
  const col = Math.floor(i/4), row = i%4;
  const baseX = col===0 ? 0 : 704;
  const cy = 32 + row*20;
  const cb = document.createElement('div'); cb.className='cb'; cb.style.left=baseX+'px'; cb.style.top=(cy-6)+'px';
  cb.innerHTML='<svg width="12" height="12" viewBox="0 0 12 12"><polyline points="2,6.5 4.8,9.5 10.5,2.5" fill="none" stroke="#505050" stroke-width="1.4"/></svg>';
  lg.appendChild(cb);
  const nm = document.createElement('div'); nm.className='lg'; nm.style.left=(baseX+47)+'px'; nm.style.top=(cy-8)+'px'; nm.style.color=legendColors[i]; nm.textContent=n; lg.appendChild(nm);
  const vl = document.createElement('div'); vl.className='lg'; vl.style.left=(col===0?515:1219)+'px'; vl.style.top=(cy-8)+'px'; vl.style.color=legendColors[i]; vl.textContent=legendValues[i]; lg.appendChild(vl);
});
</script>
</body></html>
